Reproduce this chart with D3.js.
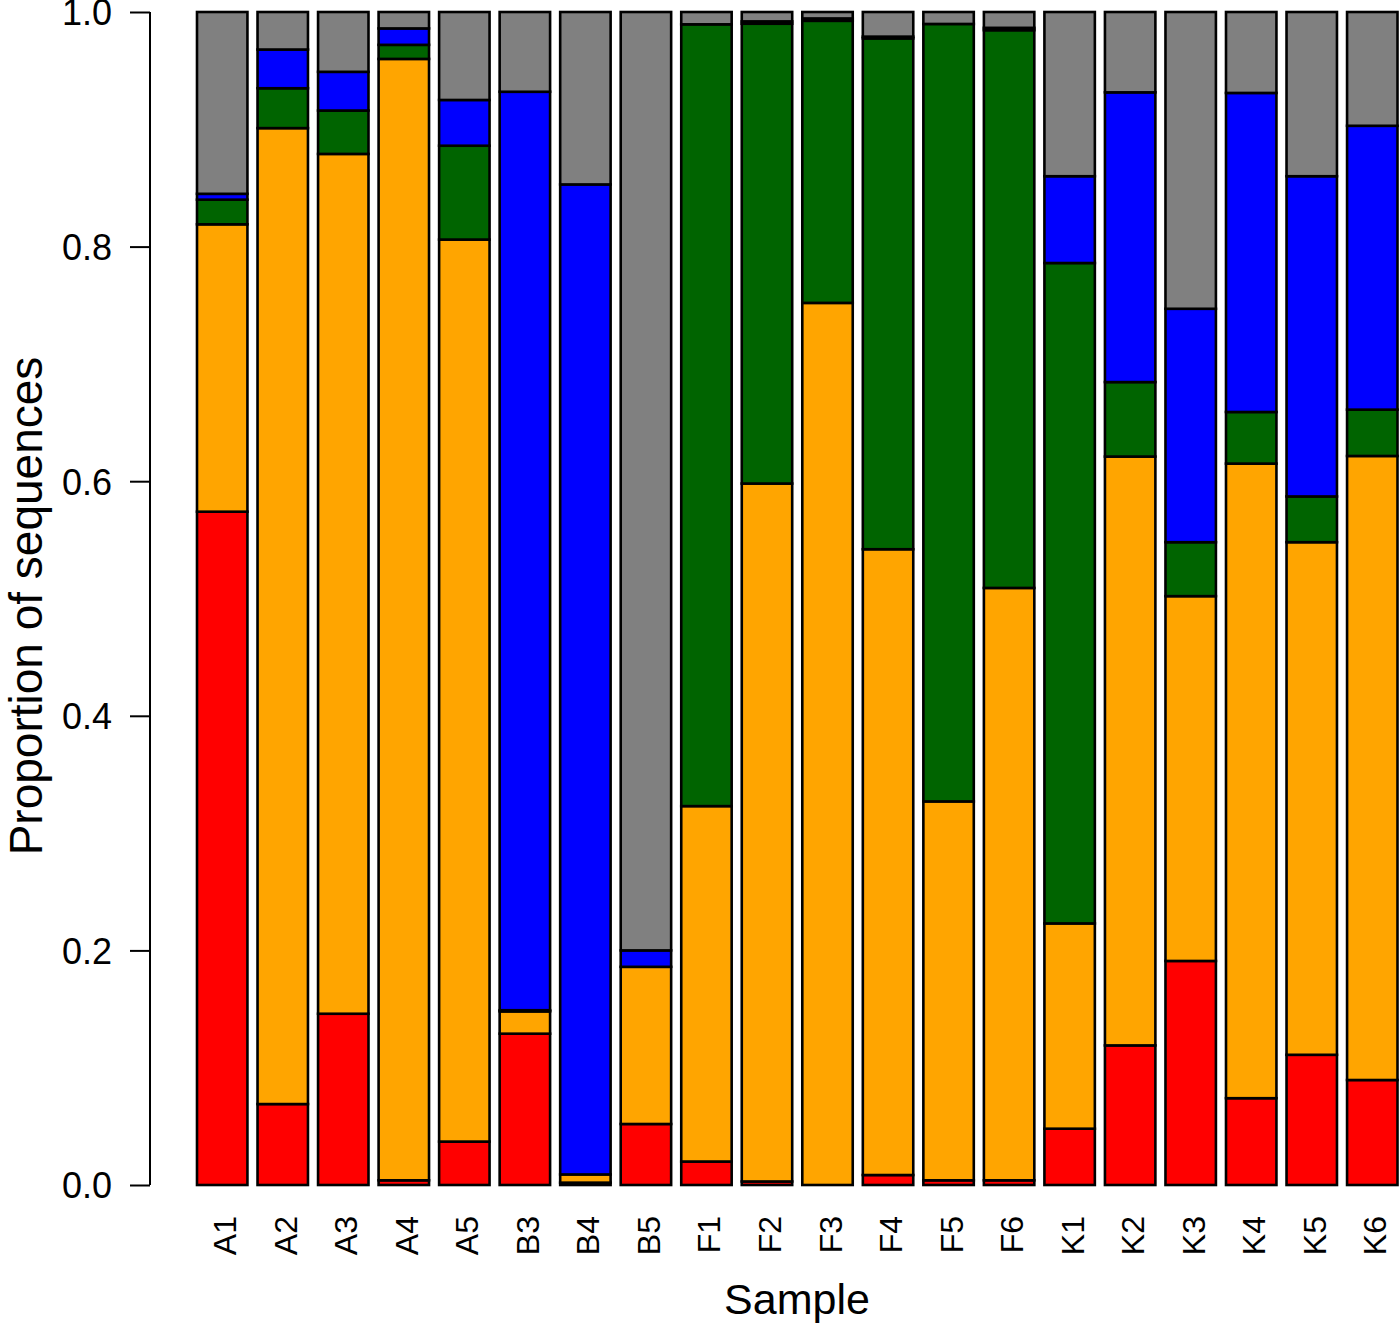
<!DOCTYPE html>
<html>
<head>
<meta charset="utf-8">
<script src="https://cdn.jsdelivr.net/npm/d3@7"></script>
<style>
	body { margin: 0; background: #fff; }
	text { font-family: "Liberation Sans", Arial, sans-serif; fill: #000; }
</style>
</head>
<body>
<div class="chart"></div>
<script>
// sample names along the x axis
var samples = ["A1", "A2", "A3", "A4", "A5", "B3", "B4", "B5", "F1", "F2",
	"F3", "F4", "F5", "F6", "K1", "K2", "K3", "K4", "K5", "K6"];

// proportions per sample, bottom to top of each bar
var red    = [0.574, 0.069, 0.146, 0.004, 0.037, 0.129, 0.002, 0.052, 0.020, 0.003,
	0.000, 0.0085, 0.004, 0.004, 0.048, 0.119, 0.191, 0.074, 0.111, 0.0895];
var orange = [0.245, 0.832, 0.733, 0.956, 0.769, 0.019, 0.007, 0.134, 0.303, 0.595,
	0.752, 0.5335, 0.323, 0.505, 0.175, 0.502, 0.311, 0.541, 0.437, 0.532];
var green  = [0.021, 0.034, 0.037, 0.012, 0.080, 0.001, 0.000, 0.000, 0.6665, 0.392,
	0.2405, 0.4355, 0.6628, 0.4755, 0.563, 0.0635, 0.046, 0.044, 0.039, 0.0395];
var blue   = [0.005, 0.033, 0.033, 0.014, 0.039, 0.783, 0.844, 0.014, 0.000, 0.002,
	0.002, 0.0015, 0.000, 0.002, 0.074, 0.247, 0.199, 0.272, 0.273, 0.242];
var grey   = [0.155, 0.032, 0.051, 0.014, 0.075, 0.068, 0.147, 0.800, 0.0105, 0.008,
	0.0055, 0.021, 0.0102, 0.0135, 0.140, 0.0685, 0.253, 0.069, 0.140, 0.097];

var yTicks = [0, 0.2, 0.4, 0.6, 0.8, 1.0];

var keys = ["red", "orange", "green", "blue", "grey"];
var colours = {red: "#ff0000", orange: "#ffa500", green: "#006400", blue: "#0000ff", grey: "#808080"};

var width = 1400,
	height = 1331;

// build rows for d3.stack
var rows = samples.map(function(s, i) {
	return {sample: s, red: red[i], orange: orange[i], green: green[i], blue: blue[i], grey: grey[i]};
});

var svg = d3.select(".chart").append("svg")
	.attr("width", width)
	.attr("height", height);

svg.append("rect")
	.attr("width", width)
	.attr("height", height)
	.attr("fill", "#fff");

var x = d3.scaleBand()
	.domain(samples)
	.range([197, 1397.5])
	.paddingInner(1 / 6)
	.paddingOuter(0);

var y = d3.scaleLinear()
	.domain([0, 1])
	.range([1185, 12]);

var series = d3.stack().keys(keys)(rows);

// stacked bars
svg.append("g")
	.selectAll("g")
	.data(series)
	.enter().append("g")
		.attr("fill", function(d) { return colours[d.key]; })
	.selectAll("rect")
	.data(function(d) { return d; })
	.enter().append("rect")
		.attr("x", function(d) { return x(d.data.sample); })
		.attr("width", x.bandwidth())
		.attr("y", function(d) { return y(d[1]); })
		.attr("height", function(d) { return y(d[0]) - y(d[1]); })
		.attr("stroke", "#000")
		.attr("stroke-width", 2.6);

// y axis
var yAxis = svg.append("g")
	.attr("transform", "translate(150,0)")
	.call(d3.axisLeft(y).tickValues(yTicks).tickSize(20).tickPadding(18)
		.tickFormat(d3.format(".1f")));

yAxis.select(".domain")
	.attr("stroke-width", 2)
	.attr("d", "M0," + y(0) + "V" + y(1));

yAxis.selectAll(".tick line").attr("stroke-width", 2);

yAxis.selectAll(".tick text")
	.style("font-size", "36px")
	.attr("font-family", null)
	.attr("dy", "0.36em");

// x tick labels, rotated
svg.append("g")
	.selectAll("text")
	.data(samples)
	.enter().append("text")
		.attr("x", function(d) { return x(d) + x.bandwidth() / 2 + 14; })
		.attr("y", 1216)
		.attr("text-anchor", "end")
		.attr("transform", function(d) {
			return "rotate(-90," + (x(d) + x.bandwidth() / 2 + 14) + ",1216)";
		})
		.style("font-size", "32px")
		.text(function(d) { return d; });

// axis titles
svg.append("text")
	.attr("x", 797)
	.attr("y", 1314)
	.attr("text-anchor", "middle")
	.style("font-size", "43px")
	.text("Sample");

svg.append("text")
	.attr("transform", "translate(42,606) rotate(-90)")
	.attr("text-anchor", "middle")
	.style("font-size", "46px")
	.text("Proportion of sequences");
</script>
</body>
</html>
